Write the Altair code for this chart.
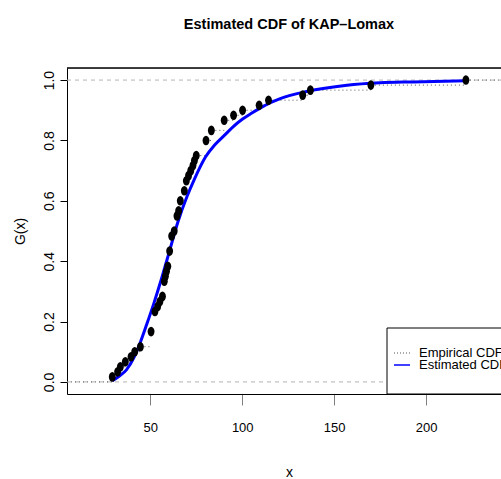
import altair as alt
import pandas as pd

# Observed sample (n = 60), sorted; repeated values are ties
sample = [29.3, 32.2, 33.7, 36.4, 39.5, 41.5, 44.6,
          50.4, 50.4, 50.4,
          52.5, 52.5, 52.5, 52.5,
          54.0, 55.2, 56.6,
          57.6, 57.6, 57.6,
          58.2, 58.8, 59.5,
          60.5, 60.5, 60.5,
          61.6, 61.6, 61.6,
          63.0,
          64.5, 64.5, 64.5,
          65.4,
          66.3, 66.3,
          68.5, 68.5,
          69.6, 69.6,
          70.8, 72.0, 73.2, 74.0, 75.0,
          80.3, 80.3, 80.3,
          83.2, 83.2,
          90.2, 90.2,
          95.3, 100.2, 109.2, 114.3, 132.9, 137.1, 170.0, 221.7]

# Fitted KAP-Lomax CDF evaluated along the data range
est_x = [29.3, 33, 37, 41, 44.5, 48, 52, 56, 60.5, 65, 70, 74, 80, 85, 90,
         95, 100, 105, 110, 115, 120, 135, 157, 175, 193, 221.7]
est_y = [0.004, 0.019, 0.040, 0.080, 0.130, 0.190, 0.262, 0.340, 0.435,
         0.530, 0.615, 0.672, 0.745, 0.785, 0.815, 0.845, 0.870, 0.890,
         0.908, 0.924, 0.937, 0.962, 0.983, 0.991, 0.994, 0.998]

x_ticks = [50, 100, 150, 200]
y_ticks = [0.0, 0.2, 0.4, 0.6, 0.8, 1.0]
legend_labels = ["Empirical CDF", "Estimated CDF"]

XMIN, XMAX = 4.66, 240.8
YMIN, YMAX = -0.04, 1.04
W, H = 434, 326

SANS = "Liberation Sans, Arial, Helvetica, sans-serif"

# Empirical CDF: knots and step segments
s = pd.Series(sample)
n = len(s)
knots = sorted(s.unique().tolist())
F = [float((s <= k).sum()) / n for k in knots]
ecdf = pd.DataFrame({"x": knots, "y": F})
steps = pd.DataFrame({"x": [XMIN] + knots, "x2": knots + [XMAX], "y": [0.0] + F})
est = pd.DataFrame({"x": est_x, "y": est_y})
ref_lines = pd.DataFrame({"y": [0.0, 1.0]})

x_scale = alt.Scale(domain=[XMIN, XMAX], nice=False, zero=False)
y_scale = alt.Scale(domain=[YMIN, YMAX], nice=False, zero=False)

x_axis = alt.Axis(
    values=x_ticks, grid=False, domainColor="black", domainWidth=1,
    tickColor="#808080", tickSize=11, tickWidth=1,
    labelFont=SANS, labelFontSize=13, labelColor="black", labelPadding=16,
    title="x", titleFont=SANS, titleFontSize=14, titleFontWeight="normal",
    titleColor="black", titleX=222, titleY=78, titleBaseline="middle",
    titleAlign="center",
)
y_axis = alt.Axis(
    values=y_ticks, format=".1f", grid=False, domainColor="black", domainWidth=1,
    tickColor="black", tickSize=7, tickWidth=1,
    labelFont=SANS, labelFontSize=14, labelColor="black", labelAngle=270,
    labelAlign="center", labelBaseline="alphabetic", labelPadding=7,
    title="G(x)", titleFont=SANS, titleFontSize=14, titleFontWeight="normal",
    titleColor="black", titleAngle=270, titleX=-47, titleY=H / 2,
    titleBaseline="middle", titleAlign="center",
)


def X(field="x"):
    return alt.X(f"{field}:Q", scale=x_scale, axis=x_axis, title="x")


def Y():
    return alt.Y("y:Q", scale=y_scale, axis=y_axis, title="G(x)")


# gray dashed reference lines at 0 and 1
hlines = alt.Chart(ref_lines).mark_rule(
    color="#b3b3b3", strokeDash=[4, 4], strokeWidth=1
).encode(y=Y(), x=alt.value(0), x2=alt.value(W))

# dotted horizontal steps of the empirical CDF
step_rules = alt.Chart(steps).mark_rule(
    color="#555555", strokeDash=[1, 3], strokeWidth=1
).encode(x=X(), x2="x2:Q", y=Y())

# fitted CDF curve
curve = alt.Chart(est).mark_line(
    color="#0000ff", strokeWidth=3, interpolate="monotone"
).encode(x=X(), y=Y())

# empirical CDF points (slightly tall dots)
ellipse = "M-0.72,0A0.72,1,0,1,0,0.72,0A0.72,1,0,1,0,-0.72,0Z"
points = alt.Chart(ecdf).mark_point(
    shape=ellipse, filled=True, color="black", opacity=1, size=92
).encode(x=X(), y=Y())

# top border of the plot box
top_border = alt.Chart(ref_lines).mark_rule(color="black", strokeWidth=1).encode(
    x=alt.value(0), x2=alt.value(W), y=alt.value(0)
)

# legend box
leg_data = pd.DataFrame({"label": legend_labels})
leg_box = alt.Chart(leg_data.head(1)).mark_rect(
    fill="white", stroke="black", strokeWidth=1
).encode(x=alt.value(320), x2=alt.value(460), y=alt.value(260), y2=alt.value(H))

leg_sym1 = alt.Chart(leg_data.head(1)).mark_rule(
    color="#555555", strokeDash=[1, 2], strokeWidth=1
).encode(x=alt.value(327), x2=alt.value(343), y=alt.value(285))
leg_sym2 = alt.Chart(leg_data.head(1)).mark_rule(
    color="#0000ff", strokeWidth=1.5
).encode(x=alt.value(327), x2=alt.value(343), y=alt.value(297))

leg_txt1 = alt.Chart(leg_data.iloc[[0]]).mark_text(
    font=SANS, fontSize=13, align="left", baseline="middle", color="black"
).encode(x=alt.value(352), y=alt.value(285), text="label:N")
leg_txt2 = alt.Chart(leg_data.iloc[[1]]).mark_text(
    font=SANS, fontSize=13, align="left", baseline="middle", color="black"
).encode(x=alt.value(352), y=alt.value(297), text="label:N")

chart = alt.layer(
    hlines, step_rules, curve, points, top_border,
    leg_box, leg_sym1, leg_sym2, leg_txt1, leg_txt2,
).properties(
    width=W,
    height=H,
    autosize=alt.AutoSizeParams(type="none"),
    padding={"left": 67, "top": 68, "right": 0, "bottom": 85},
    title=alt.Title(
        "Estimated CDF of KAP\u2013Lomax", font=SANS, fontSize=14.5,
        fontWeight="bold", color="black", anchor="middle", offset=24,
        baseline="alphabetic", dx=5,
    ),
).configure_view(strokeWidth=0).configure(background="white")

chart.save("out.html", embed_options={"renderer": "svg", "actions": False})
